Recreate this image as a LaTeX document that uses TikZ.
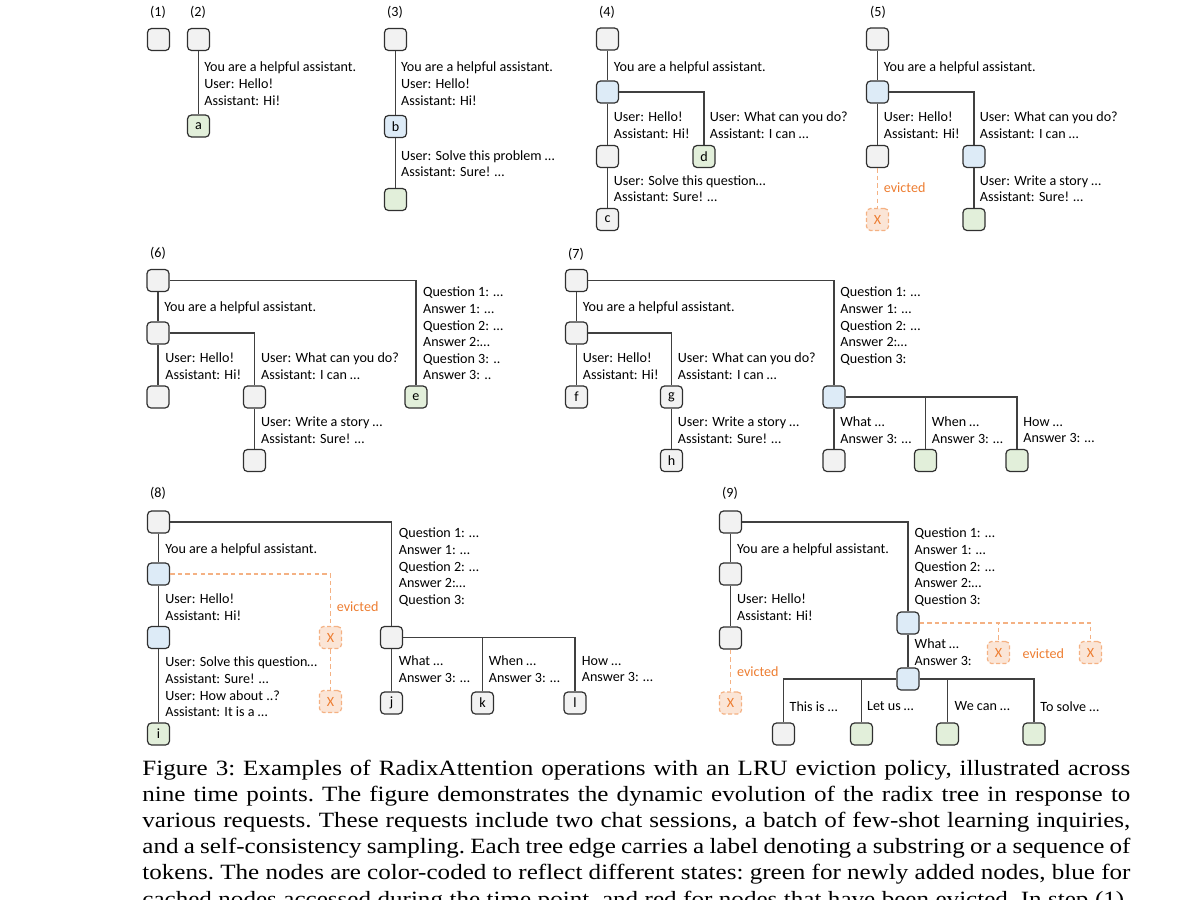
\documentclass[tikz,border=0pt]{standalone}
\usepackage{fontspec}
\setmainfont{Carlito}
\newfontfamily\capfont[FakeStretch=1.15]{Liberation Serif}
\definecolor{oldgray}{HTML}{F2F2F2}
\definecolor{newgreen}{HTML}{E2EFDA}
\definecolor{hitblue}{HTML}{DDEBF7}
\definecolor{evictfill}{HTML}{FBE5D6}
\definecolor{evictline}{HTML}{F4B183}
\definecolor{evicttext}{HTML}{ED7D31}
\definecolor{linkgray}{HTML}{404040}
\definecolor{boxline}{HTML}{303030}
\newcommand\diagfont{\fontsize{7.05}{8.3}\selectfont}
\newcommand\capline[1]{\hbox to 494pt{\capfont\fontsize{10.9}{12}\selectfont\frenchspacing #1}}

\begin{document}
\begin{tikzpicture}[x=0.5pt,y=-0.5pt,
    every node/.style={font=\diagfont},
    tnode/.style={draw=boxline, line width=0.6pt, rounded corners=2pt,
      minimum size=11pt, inner sep=0pt, fill=oldgray},
    fresh/.style={tnode, fill=newgreen},
    hit/.style={tnode, fill=hitblue},
    gone/.style={tnode, draw=evictline, dash pattern=on 2pt off 1.2pt,
      fill=evictfill, text=evicttext},
    link/.style={draw=linkgray, line width=0.7pt},
    evict/.style={draw=evictline, line width=0.7pt, dash pattern=on 2.2pt off 1.6pt},
    lbl/.style={anchor=north west, align=left, inner sep=0pt},
    ev/.style={anchor=north west, inner sep=0pt, text=evicttext},
    stamp/.style={inner sep=0pt},
    capnode/.style={anchor=base west, inner sep=0pt}]

  \useasboundingbox (0,0) rectangle (1200,900);

  % -- Step labels --
  \node[stamp] (s1) at (158,12) {(1)};
  \node[stamp] (s2) at (198,12) {(2)};
  \node[stamp] (s3) at (395,12) {(3)};
  \node[stamp] (s4) at (607,12) {(4)};
  \node[stamp] (s5) at (878,12) {(5)};
  \node[stamp] (s6) at (158,253) {(6)};
  \node[stamp] (s7) at (576,254) {(7)};
  \node[stamp] (s8) at (158,493) {(8)};
  \node[stamp] (s9) at (730,493) {(9)};

  % -- (1) empty tree --
  \node[tnode] (r1) at (158.5,39.5) {};

  % -- (2) first chat --
  \node[tnode] (r2) at (198.5,39.5) {};
  \node[fresh] (a) at (198.5,126) {a};
  \draw[link] (r2) -- (a);
  \node[lbl] (l21) at (204,61.7) {You are a helpful assistant.\\User: Hello!\\Assistant: Hi!};

  % -- (3) --
  \node[tnode] (r3) at (395.5,39.5) {};
  \node[hit] (b) at (395.5,126.5) {b};
  \node[fresh] (n3) at (395.5,199.5) {};
  \draw[link] (r3) -- (b);
  \draw[link] (b) -- (n3);
  \node[lbl] (l31) at (400.7,61.7) {You are a helpful assistant.\\User: Hello!\\Assistant: Hi!};
  \node[lbl] (l32) at (400.7,150) {User: Solve this problem \dots\\Assistant: Sure! \dots};

  % -- (4) --
  \node[tnode] (r4) at (607.5,39) {};
  \node[hit] (m4) at (607.5,92) {};
  \node[tnode] (u4) at (607.5,156.5) {};
  \node[fresh] (d) at (704,156.5) {d};
  \node[tnode] (c) at (607.5,219.5) {c};
  \draw[link] (r4) -- (m4);
  \draw[link] (m4) -- (u4);
  \draw[link] (m4) -| (d);
  \draw[link] (u4) -- (c);
  \node[lbl] (l41) at (613.5,61) {You are a helpful assistant.};
  \node[lbl] (l42) at (613.5,111.7) {User: Hello!\\Assistant: Hi!};
  \node[lbl] (l43) at (709.5,111.7) {User: What can you do?\\Assistant: I can \dots};
  \node[lbl] (l44) at (613.5,175) {User: Solve this question\dots\\Assistant: Sure! \dots};

  % -- (5) --
  \node[tnode] (r5) at (877.5,39) {};
  \node[hit] (m5) at (877.5,92) {};
  \node[tnode] (u5) at (877.5,156.5) {};
  \node[hit] (w5) at (974,156.5) {};
  \node[gone] (x5) at (877.5,219.5) {X};
  \node[fresh] (n5) at (974,219.5) {};
  \draw[link] (r5) -- (m5);
  \draw[link] (m5) -- (u5);
  \draw[link] (m5) -| (w5);
  \draw[link] (w5) -- (n5);
  \draw[evict] (u5) -- (x5);
  \node[lbl] (l51) at (883.5,61) {You are a helpful assistant.};
  \node[lbl] (l52) at (883.5,111.7) {User: Hello!\\Assistant: Hi!};
  \node[lbl] (l53) at (979.5,111.7) {User: What can you do?\\Assistant: I can \dots};
  \node[lbl] (l54) at (979.5,175) {User: Write a story \dots\\Assistant: Sure! \dots};
  \node[ev] (e5) at (883.5,182.7) {evicted};

  % -- (6) --
  \node[tnode] (r6) at (158,280.5) {};
  \node[tnode] (m6) at (158,333) {};
  \node[tnode] (u6) at (158,397) {};
  \node[tnode] (w6) at (254.5,397) {};
  \node[tnode] (n6) at (254.5,460.5) {};
  \node[fresh] (e) at (416,397) {e};
  \draw[link] (r6) -- (m6);
  \draw[link] (m6) -- (u6);
  \draw[link] (m6) -| (w6);
  \draw[link] (w6) -- (n6);
  \draw[link] (r6) -| (e);
  \node[lbl] (l61) at (164,301.7) {You are a helpful assistant.};
  \node[lbl] (l62) at (165,352.3) {User: Hello!\\Assistant: Hi!};
  \node[lbl] (l63) at (260.7,352.3) {User: What can you do?\\Assistant: I can \dots};
  \node[lbl] (l64) at (260.7,416.7) {User: Write a story \dots\\Assistant: Sure! \dots};
  \node[lbl] (l65) at (422.7,286.7) {Question 1: \dots\\Answer 1: \dots\\Question 2: \dots\\Answer 2:\dots\\Question 3: ..\\Answer 3: ..};

  % -- (7) --
  \node[tnode] (r7) at (576.5,280.5) {};
  \node[tnode] (m7) at (576.5,333) {};
  \node[tnode] (f) at (576.5,397) {f};
  \node[tnode] (g) at (671.5,397) {g};
  \node[tnode] (h) at (671.5,460.5) {h};
  \node[hit] (q7) at (834,397) {};
  \node[tnode] (q71) at (834,460.5) {};
  \node[fresh] (q72) at (925.5,460.5) {};
  \node[fresh] (q73) at (1017,460.5) {};
  \draw[link] (r7) -- (m7);
  \draw[link] (m7) -- (f);
  \draw[link] (m7) -| (g);
  \draw[link] (g) -- (h);
  \draw[link] (r7) -| (q7);
  \draw[link] (q7) -- (q71);
  \draw[link] (q7) -| (q72);
  \draw[link] (q7) -| (q73);
  \node[lbl] (l71) at (582.5,301.7) {You are a helpful assistant.};
  \node[lbl] (l72) at (582.5,352.3) {User: Hello!\\Assistant: Hi!};
  \node[lbl] (l73) at (677.5,352.3) {User: What can you do?\\Assistant: I can \dots};
  \node[lbl] (l74) at (677.5,416.7) {User: Write a story \dots\\Assistant: Sure! \dots};
  \node[lbl] (l75) at (840,286.7) {Question 1: \dots\\Answer 1: \dots\\Question 2: \dots\\Answer 2:\dots\\Question 3:};
  \node[lbl] (l76) at (840,416.7) {What \dots\\Answer 3: \dots};
  \node[lbl] (l77) at (931.5,416.7) {When \dots\\Answer 3: \dots};
  \node[lbl] (l78) at (1023,416.7) {How \dots\\Answer 3: \dots};

  % -- (8) --
  \node[tnode] (r8) at (158.5,522) {};
  \node[hit] (m8) at (158.5,574) {};
  \node[hit] (u8) at (158.5,637.5) {};
  \node[fresh] (i) at (158.5,734) {i};
  \node[gone] (x81) at (330.5,637.5) {X};
  \node[gone] (x82) at (330.5,701.5) {X};
  \node[tnode] (q8) at (391.5,637.5) {};
  \node[tnode] (j) at (391.5,703) {j};
  \node[tnode] (k) at (482.5,703) {k};
  \node[tnode] (l) at (575,703) {l};
  \draw[link] (r8) -- (m8);
  \draw[link] (m8) -- (u8);
  \draw[link] (u8) -- (i);
  \draw[link] (r8) -| (q8);
  \draw[link] (q8) -- (j);
  \draw[link] (q8) -| (k);
  \draw[link] (q8) -| (l);
  \draw[evict] (m8) -| (x81);
  \draw[evict] (x81) -- (x82);
  \node[lbl] (l81) at (165,543.3) {You are a helpful assistant.};
  \node[lbl] (l82) at (165,593.3) {User: Hello!\\Assistant: Hi!};
  \node[lbl] (l83) at (165,656.7) {User: Solve this question\dots\\Assistant: Sure! \dots\\User: How about ..?\\Assistant: It is a \dots};
  \node[ev] (e8) at (336.5,601.7) {evicted};
  \node[lbl] (l84) at (398.5,527.7) {Question 1: \dots\\Answer 1: \dots\\Question 2: \dots\\Answer 2:\dots\\Question 3:};
  \node[lbl] (l85) at (398.5,655.7) {What \dots\\Answer 3: \dots};
  \node[lbl] (l86) at (488.5,655.7) {When \dots\\Answer 3: \dots};
  \node[lbl] (l87) at (581.5,655.7) {How \dots\\Answer 3: \dots};

  % -- (9) --
  \node[tnode] (r9) at (730.5,522) {};
  \node[tnode] (m9) at (730.5,574) {};
  \node[tnode] (u9) at (730.5,638) {};
  \node[gone] (x9) at (730.5,703) {X};
  \node[hit] (q9) at (908,623) {};
  \node[gone] (x91) at (998.5,652.5) {X};
  \node[gone] (x92) at (1090.5,652.5) {X};
  \node[hit] (v9) at (908,679) {};
  \node[tnode] (t91) at (783.5,734) {};
  \node[fresh] (t92) at (861.5,734) {};
  \node[fresh] (t93) at (947.5,734) {};
  \node[fresh] (t94) at (1034,734) {};
  \draw[link] (r9) -- (m9);
  \draw[link] (m9) -- (u9);
  \draw[evict] (u9) -- (x9);
  \draw[link] (r9) -| (q9);
  \draw[link] (q9) -- (v9);
  \draw[evict] (q9) -| (x91);
  \draw[evict] (q9) -| (x92);
  \draw[link] (v9) -| (t91);
  \draw[link] (v9) -| (t92);
  \draw[link] (v9) -| (t93);
  \draw[link] (v9) -| (t94);
  \node[lbl] (l91) at (736.7,543) {You are a helpful assistant.};
  \node[lbl] (l92) at (736.7,593.3) {User: Hello!\\Assistant: Hi!};
  \node[ev] (e9) at (736.7,666.7) {evicted};
  \node[lbl] (l93) at (914.3,527.7) {Question 1: \dots\\Answer 1: \dots\\Question 2: \dots\\Answer 2:\dots\\Question 3:};
  \node[lbl] (l94) at (914.3,638.3) {What \dots\\Answer 3:};
  \node[inner sep=0pt, text=evicttext] (e91) at (1043.3,653.3) {evicted};
  \node[lbl] (l95) at (789.3,701) {This is \dots};
  \node[lbl] (l96) at (866.7,701) {Let us \dots};
  \node[lbl] (l97) at (954.3,701) {We can \dots};
  \node[lbl] (l98) at (1040,701) {To solve \dots};

  % -- Caption --
  \node[capnode] (cap1) at (142,775) {\capline{Figure 3: Examples of RadixAttention operations with an LRU eviction policy, illustrated across}};
  \node[capnode] (cap2) at (142,801) {\capline{nine time points. The figure demonstrates the dynamic evolution of the radix tree in response to}};
  \node[capnode] (cap3) at (142,827) {\capline{various requests. These requests include two chat sessions, a batch of few-shot learning inquiries,}};
  \node[capnode] (cap4) at (142,853) {\capline{and a self-consistency sampling. Each tree edge carries a label denoting a substring or a sequence of}};
  \node[capnode] (cap5) at (142,879) {\capline{tokens. The nodes are color-coded to reflect different states: green for newly added nodes, blue for}};
  \node[capnode] (cap6) at (142,906) {\capline{cached nodes accessed during the time point, and red for nodes that have been evicted. In step (1),}};

\end{tikzpicture}
\end{document}
